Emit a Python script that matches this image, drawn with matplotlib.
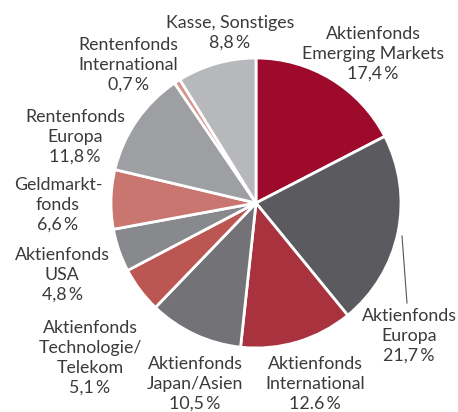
import matplotlib
matplotlib.use("Agg")
import matplotlib.pyplot as plt

labels = ["Aktienfonds\nEmerging Markets", "Aktienfonds\nEuropa", "Aktienfonds\nInternational",
          "Aktienfonds\nJapan/Asien", "Aktienfonds\nTechnologie/\nTelekom", "Aktienfonds\nUSA",
          "Geldmarkt-\nfonds", "Rentenfonds\nEuropa", "Rentenfonds\nInternational",
          "Kasse, Sonstiges"]
values = [17.4, 21.7, 12.6, 10.5, 5.1, 4.8, 6.6, 11.8, 0.7, 8.8]
pct_text = ["17,4\u2009%", "21,7\u2009%", "12.6\u2009%", "10,5\u2009%", "5,1\u2009%", "4,8\u2009%",
            "6,6\u2009%", "11,8\u2009%", "0,7\u2009%", "8,8\u2009%"]
colors = ["#9e0a2b", "#5b5b5f", "#a8323e", "#727277", "#bb5652", "#88898d",
          "#c97570", "#9e9fa3", "#d9948e", "#b7b8bc"]

# label centres in pixels (x, y from top)
label_pos = [(373, 54), (409, 336), (315, 384), (195, 384), (90, 358), (62, 275),
             (58, 205), (75, 137), (128, 65), (230, 33)]

W, H = 458, 412
fig = plt.figure(figsize=(W / 100, H / 100), dpi=100)
cx, cy, r = 256, 203, 145
ax = fig.add_axes([(cx - r) / W, (H - cy - r) / H, 2 * r / W, 2 * r / H])
ax.pie(values, colors=colors, startangle=90, counterclock=False,
       wedgeprops=dict(edgecolor="white", linewidth=2))
ax.set_xlim(-1, 1)
ax.set_ylim(-1, 1)
ax.axis("off")

for lab, pct, (x, y) in zip(labels, pct_text, label_pos):
    fig.text(x / W, 1 - y / H, lab + "\n" + pct, ha="center", va="center",
             fontsize=12.8, family=["Lato", "DejaVu Sans"], color="#3a3a3a", linespacing=1.3)

# leader line for Europa
fig.add_artist(plt.Line2D([402 / W, 407 / W], [1 - 236 / H, 1 - 303 / H],
                          color="#555555", lw=0.8))

fig.savefig("out.png", dpi=100)
